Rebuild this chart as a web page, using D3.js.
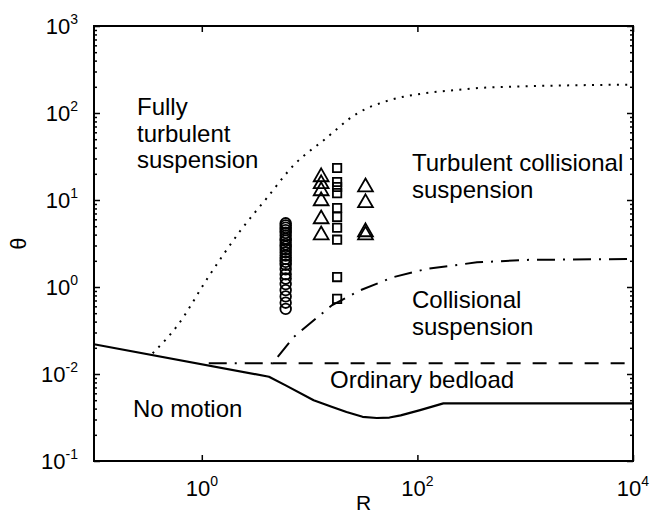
<!DOCTYPE html>
<html>
<head>
<meta charset="utf-8">
<script src="https://cdn.jsdelivr.net/npm/d3@7"></script>
<style>
	body { margin: 0; background: #fff; }
	text { font-family: "Liberation Sans", Arial, sans-serif; fill: #000; }
</style>
</head>
<body>
<svg id="chart" width="652" height="516"></svg>
<script>
// tick values and the labels printed next to them (as in the picture)
const xMajor = [1, 100, 10000];
const xTickExp = ['0', '2', '4'];
const yMajor = [0.01, 0.1, 1, 10, 100, 1000];
const yTickExp = ['-1', '-2', '0', '1', '2', '3'];

// no-motion threshold (solid)
const solidR     = [0.1, 4.2, 6, 10.9, 16, 22, 31, 42, 55, 70, 106, 174, 10000];
const solidTheta = [0.22, 0.093, 0.074, 0.050, 0.042, 0.0366, 0.0322, 0.0312, 0.0316, 0.0335, 0.0385, 0.046, 0.046];

// ordinary bedload upper limit (dashed)
const dashedR     = [4.54, 10000];
const dashedTheta = [0.133, 0.133];

// collisional suspension (dash-dot)
const dashDotR     = [1.16, 4.54, 7.16, 16.2, 29.7, 60, 123, 357, 1040, 10000];
const dashDotTheta = [0.133, 0.133, 0.268, 0.62, 0.92, 1.3, 1.62, 1.92, 2.05, 2.1];

// fully turbulent suspension (dotted)
const dottedR     = [0.35, 0.60, 1.13, 2.3, 4.0, 7.2, 13.6, 27.7, 56, 114, 233, 474, 10000];
const dottedTheta = [0.173, 0.366, 1.26, 4.5, 10.5, 25.5, 49, 99, 141, 168, 184, 197, 212];

// experiments
const circleR = 6.0;
const circleTheta = [5.4, 5.1, 4.8, 4.5, 4.2, 3.9, 3.6, 3.4, 3.1, 2.9, 2.7, 2.5, 2.3, 2.1,
	1.95, 1.8, 1.6, 1.4, 1.25, 1.08, 0.92, 0.78, 0.66, 0.56];
const squareR = 18;
const squareTheta = [23.3, 16.1, 14.1, 12.0, 8.1, 6.4, 4.8, 3.5, 1.30, 0.73];
const triangleR = [12.8, 12.8, 12.8, 12.8, 12.8, 12.8, 33, 33, 33, 33];
const triangleTheta = [18.4, 15.3, 12.7, 9.75, 6.05, 3.96, 14.1, 9.25, 4.29, 3.96];

const frameL = 94, frameR = 633, frameT = 26, frameB = 461;

const x = d3.scaleLog().domain([0.1, 10000]).range([frameL, frameR]);
const y = d3.scaleLog().domain([0.01, 1000]).range([frameB, frameT]);

const svg = d3.select('#chart');

// minor ticks on the log theta axis
let yMinor = [];
for (let e = -2; e < 3; e++) {
	for (let m = 2; m < 10; m++) yMinor.push(m * Math.pow(10, e));
}

const strip = g => g.select('.domain').remove();

svg.append('g').attr('transform', `translate(${frameL},0)`)
	.call(d3.axisLeft(y).tickValues(yMajor).tickSize(-6).tickFormat(''))
	.call(strip);
svg.append('g').attr('transform', `translate(${frameL},0)`)
	.call(d3.axisLeft(y).tickValues(yMinor).tickSize(-3).tickFormat(''))
	.call(strip);
svg.append('g').attr('transform', `translate(${frameR},0)`)
	.call(d3.axisRight(y).tickValues(yMajor).tickSize(-6).tickFormat(''))
	.call(strip);
svg.append('g').attr('transform', `translate(${frameR},0)`)
	.call(d3.axisRight(y).tickValues(yMinor).tickSize(-3).tickFormat(''))
	.call(strip);
svg.append('g').attr('transform', `translate(0,${frameB})`)
	.call(d3.axisBottom(x).tickValues(xMajor).tickSize(-6).tickFormat(''))
	.call(strip);
svg.append('g').attr('transform', `translate(0,${frameT})`)
	.call(d3.axisTop(x).tickValues(xMajor).tickSize(-6).tickFormat(''))
	.call(strip);

svg.selectAll('.tick line').attr('stroke', '#000').attr('stroke-width', 1.5);

// frame
svg.append('rect')
	.attr('x', frameL).attr('y', frameT)
	.attr('width', frameR - frameL).attr('height', frameB - frameT)
	.attr('fill', 'none').attr('stroke', '#000').attr('stroke-width', 2);

// tick labels with superscripts
let power = sel => {
	sel.append('tspan').text('10');
	sel.append('tspan').attr('dy', -10).attr('font-size', 14).text(d => d.exp);
};

svg.selectAll('text.ylab')
	.data(yMajor.map((v, i) => ({v, exp: yTickExp[i]})))
	.join('text')
	.attr('class', 'ylab')
	.attr('x', 78)
	.attr('y', d => y(d.v) + 8)
	.attr('text-anchor', 'end')
	.attr('font-size', 22)
	.call(power);

svg.selectAll('text.xlab')
	.data(xMajor.map((v, i) => ({v, exp: xTickExp[i]})))
	.join('text')
	.attr('class', 'xlab')
	.attr('x', d => x(d.v))
	.attr('y', 496)
	.attr('text-anchor', 'middle')
	.attr('font-size', 22)
	.call(power);

svg.append('text')
	.attr('x', (frameL + frameR) / 2).attr('y', 510)
	.attr('text-anchor', 'middle').attr('font-size', 21)
	.text('R');

svg.append('text')
	.attr('transform', `translate(26,${(frameT + frameB) / 2}) rotate(-90)`)
	.attr('text-anchor', 'middle').attr('font-size', 22)
	.text('θ');

// curves
let line = d3.line().x(d => x(d[0])).y(d => y(d[1]));
let zip = (a, b) => a.map((v, i) => [v, b[i]]);

let plot = svg.append('g');

plot.append('path')
	.attr('d', line(zip(solidR, solidTheta)))
	.attr('fill', 'none').attr('stroke', '#000').attr('stroke-width', 2.2)
	.attr('stroke-linejoin', 'round');

plot.append('path')
	.attr('d', line(zip(dashedR, dashedTheta)))
	.attr('fill', 'none').attr('stroke', '#000').attr('stroke-width', 2)
	.attr('stroke-dasharray', '14,12');

plot.append('path')
	.attr('d', line(zip(dashDotR, dashDotTheta)))
	.attr('fill', 'none').attr('stroke', '#000').attr('stroke-width', 2)
	.attr('stroke-dasharray', '18,8,2,8');

plot.append('path')
	.attr('d', line.curve(d3.curveMonotoneX)(zip(dottedR, dottedTheta)))
	.attr('fill', 'none').attr('stroke', '#000').attr('stroke-width', 2)
	.attr('stroke-dasharray', '2,6.3');

// markers
plot.selectAll('circle.run')
	.data(circleTheta)
	.join('circle')
	.attr('class', 'run')
	.attr('cx', x(circleR))
	.attr('cy', d => y(d))
	.attr('r', 5.3)
	.attr('fill', 'none').attr('stroke', '#000').attr('stroke-width', 1.8);

plot.selectAll('path.sq')
	.data(squareTheta)
	.join('path')
	.attr('class', 'sq')
	.attr('transform', d => `translate(${x(squareR)},${y(d)})`)
	.attr('d', d3.symbol(d3.symbolSquare, 70))
	.attr('fill', 'none').attr('stroke', '#000').attr('stroke-width', 1.8);

plot.selectAll('path.tri')
	.data(zip(triangleR, triangleTheta))
	.join('path')
	.attr('class', 'tri')
	.attr('transform', d => `translate(${x(d[0])},${y(d[1])})`)
	.attr('d', d3.symbol(d3.symbolTriangle, 95))
	.attr('fill', 'none').attr('stroke', '#000').attr('stroke-width', 1.8);

// region names
let label = (lines, lx, ly) => {
	let t = svg.append('text').attr('font-size', 24);
	lines.forEach((s, i) => t.append('tspan').attr('x', lx).attr('y', ly + i * 26.5).text(s));
};
label(['Fully', 'turbulent', 'suspension'], 137, 115);
label(['Turbulent collisional', 'suspension'], 412, 171);
label(['Collisional', 'suspension'], 412, 308);
label(['Ordinary bedload'], 330, 388);
label(['No motion'], 133, 417);
</script>
</body>
</html>
